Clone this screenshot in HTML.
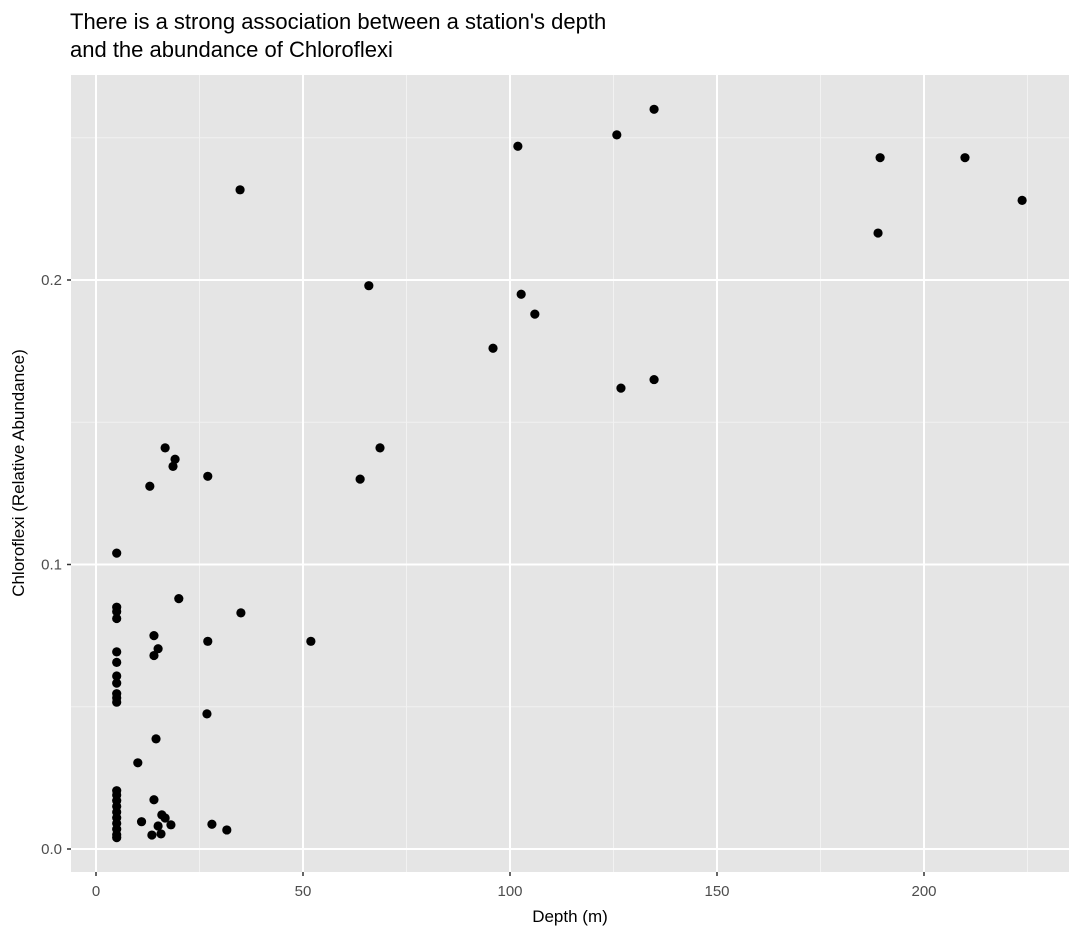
<!DOCTYPE html>
<html><head><meta charset="utf-8"><style>
body{margin:0;background:#fff;}
svg{display:block;font-family:"Liberation Sans",Arial,sans-serif;}
</style></head><body>
<svg id="chart" width="1080" height="936" viewBox="0 0 1080 936">
<text x="70" y="29" font-size="22" fill="#000">There is a strong association between a station's depth</text>
<text x="70" y="57" font-size="22" fill="#000">and the abundance of Chloroflexi</text>
<rect x="71" y="75" width="998" height="797" fill="#e5e5e5"/>
<g id="grid"></g><g id="pts"></g><g id="axes"></g>
<text x="570" y="922" font-size="17" text-anchor="middle">Depth (m)</text>
<text transform="translate(24,473) rotate(-90)" font-size="17" text-anchor="middle">Chloroflexi (Relative Abundance)</text>
</svg>
<script>
const depth=[5,5,5,5,5,5,5,5,5,5,5,5,5,5,5,5,5,5,5,5,5,
13,16.7,18.6,19.1,27,34.8,65.9,63.8,68.6,95.9,101.9,102.7,106,125.8,134.8,126.8,134.8,189.4,188.9,209.9,223.7,
20,35,14,15,14,27,51.9,26.8,14.5,10.1,14,15.9,16.7,18.1,11,15,13.5,15.7,28,31.6];
const abundance=[0.104,0.085,0.0835,0.081,0.0693,0.0656,0.0608,0.0583,0.0546,0.0531,0.0516,0.0205,0.019,0.017,0.015,0.013,0.011,0.009,0.007,0.005,0.004,
0.1275,0.141,0.1345,0.137,0.131,0.2317,0.198,0.13,0.141,0.176,0.247,0.195,0.188,0.251,0.260,0.162,0.165,0.243,0.2165,0.243,0.228,
0.088,0.083,0.075,0.0704,0.068,0.073,0.073,0.0475,0.0387,0.0303,0.0173,0.012,0.0109,0.0085,0.0096,0.0081,0.0049,0.0053,0.0087,0.0067];
const xTicks=[0,50,100,150,200];
const xMinor=[25,75,125,175,225];
const yTicks=[0,0.1,0.2];
const yTickLabels=["0.0","0.1","0.2"];
const yMinor=[0.05,0.15,0.25];
const NS="http://www.w3.org/2000/svg";
const X=v=>96+v*4.14;
const Y=v=>849-v*2845;
function mk(tag,at,parent){const e=document.createElementNS(NS,tag);for(const k in at)e.setAttribute(k,at[k]);document.getElementById(parent).appendChild(e);return e;}
xMinor.forEach(v=>{const e=mk('line',{x1:X(v),x2:X(v),y1:75,y2:872,stroke:'#f2f2f2','stroke-width':1},'grid');

});
yMinor.forEach(v=>{const e=mk('line',{x1:71,x2:1069,y1:Y(v),y2:Y(v),stroke:'#f2f2f2','stroke-width':1},'grid');

});
xTicks.forEach(v=>{const e=mk('line',{x1:X(v),x2:X(v),y1:75,y2:872,stroke:'#fff','stroke-width':2},'grid');


const t=mk('line',{x1:X(v),x2:X(v),y1:872,y2:876,stroke:'#333','stroke-width':1.5},'axes');


const l=mk('text',{x:X(v),y:896,'font-size':15,'text-anchor':'middle',fill:'#4d4d4d'},'axes');l.textContent=v;

});
yTicks.forEach((v,i)=>{const e=mk('line',{x1:71,x2:1069,y1:Y(v),y2:Y(v),stroke:'#fff','stroke-width':2},'grid');


const t=mk('line',{x1:67,x2:71,y1:Y(v),y2:Y(v),stroke:'#333','stroke-width':1.5},'axes');


const l=mk('text',{x:62,y:Y(v)+5,'font-size':15,'text-anchor':'end',fill:'#4d4d4d'},'axes');l.textContent=yTickLabels[i];

});
depth.forEach((d,i)=>{const c=mk('circle',{cx:X(d),cy:Y(abundance[i]),r:4.6,fill:'#000'},'pts');

});
</script>
</body></html>
